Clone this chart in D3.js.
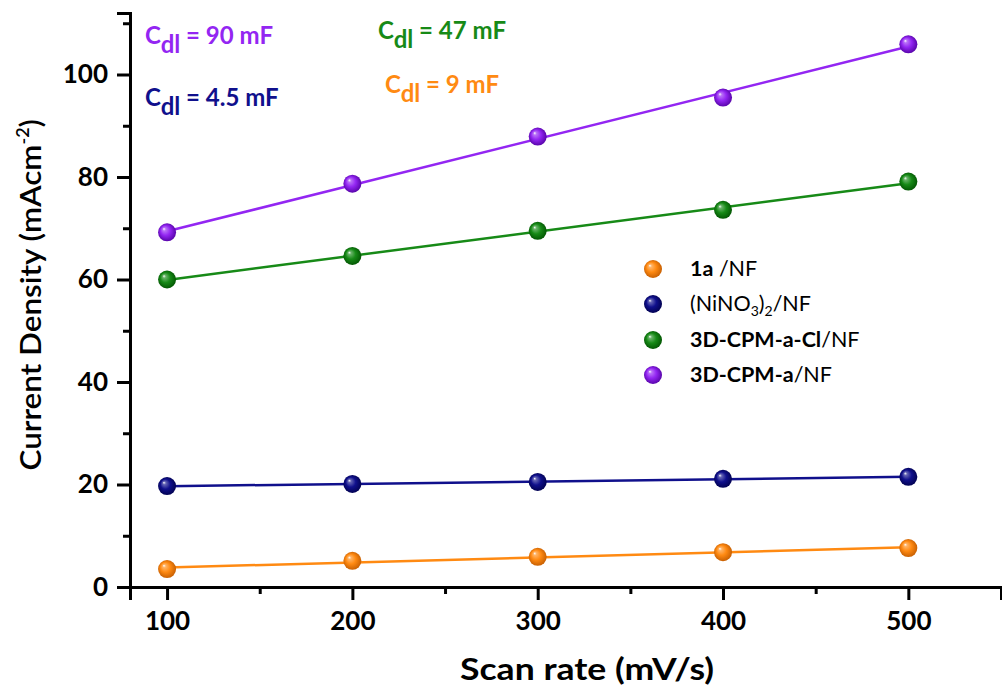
<!DOCTYPE html>
<html><head><meta charset="utf-8">
<script src="https://cdn.jsdelivr.net/npm/d3@7"></script>
<style>
html,body{margin:0;padding:0;background:#fff;}
svg{display:block;font-family:Lato,"Open Sans",sans-serif;}
</style></head>
<body><svg id="c" width="1002" height="690"></svg>
<script>
const scanRates = [100, 200, 300, 400, 500];
const series1a = [3.5, 5.1, 5.9, 6.8, 7.6];
const seriesNiNO3 = [19.7, 20.1, 20.5, 21.1, 21.5];
const seriesCl = [60.0, 64.6, 69.5, 73.6, 79.1];
const seriesA = [69.2, 78.7, 87.9, 95.5, 105.9];
const xTicks = [100, 200, 300, 400, 500];
const yTicks = [0, 20, 40, 60, 80, 100];
const seriesNames = ["1a /NF", "(NiNO3)2/NF", "3D-CPM-a-Cl/NF", "3D-CPM-a/NF"];
const annotations = ["= 90 mF", "= 47 mF", "= 4.5 mF", "= 9 mF"];

const colors = ["#ff8a12", "#10108c", "#178a17", "#9326f2"];
const dark = ["#c05a00", "#00004a", "#005000", "#5000a0"];
const seriesData = [series1a, seriesNiNO3, seriesCl, seriesA];

const svg = d3.select("#c");
const x = d3.scaleLinear().domain([80, 550]).range([130, 1001]);
const y = d3.scaleLinear().domain([0, 112]).range([587, 13]);

// gradients
const defs = svg.append("defs");
colors.forEach((c, i) => {
  const g = defs.append("radialGradient").attr("id", "g" + i)
    .attr("cx", "0.5").attr("cy", "0.5").attr("r", "0.55")
    .attr("fx", "0.32").attr("fy", "0.3");
  g.append("stop").attr("offset", "0").attr("stop-color", "#ffffff");
  g.append("stop").attr("offset", "0.16").attr("stop-color", d3.interpolateRgb("#fff", c)(0.65));
  g.append("stop").attr("offset", "0.5").attr("stop-color", c);
  g.append("stop").attr("offset", "1").attr("stop-color", dark[i]);
});

// axes
const xAxis = d3.axisBottom(x).tickValues(xTicks).tickSize(13).tickPadding(12).tickFormat(d3.format("d"));
const xMinor = d3.axisBottom(x).tickValues([150, 250, 350, 450, 550]).tickSize(7).tickFormat("");
const yAxis = d3.axisLeft(y).tickValues(yTicks).tickSize(13).tickPadding(9).tickFormat(d3.format("d"));
const yMinor = d3.axisLeft(y).tickValues([10, 30, 50, 70, 90, 110]).tickSize(7).tickFormat("");

function styleAxis(g) {
  g.selectAll("path.domain").attr("stroke", "#000").attr("stroke-width", 3);
  g.selectAll(".tick line").attr("stroke", "#000").attr("stroke-width", 3);
  g.selectAll(".tick text").attr("fill", "#000").attr("font-size", 26).attr("font-weight", "bold")
    .attr("font-family", "Lato, sans-serif");
}
svg.append("g").attr("transform", "translate(0,587)").call(xMinor).call(styleAxis);
svg.append("g").attr("transform", "translate(0,587)").call(xAxis).call(styleAxis);
svg.append("g").attr("transform", "translate(130,0)").call(yMinor).call(styleAxis);
svg.append("g").attr("transform", "translate(130,0)").call(yAxis).call(styleAxis);

// axis titles
svg.append("text").attr("x", 587).attr("y", 680).attr("text-anchor", "middle")
  .attr("font-size", 30).attr("font-weight", "bold")
  .attr("textLength", 254).attr("lengthAdjust", "spacingAndGlyphs").text("Scan rate (mV/s)");
const yt = svg.append("text").attr("transform", "translate(41,295) rotate(-90)")
  .attr("text-anchor", "middle").attr("font-size", 29).attr("font-weight", 600);
yt.append("tspan").attr("textLength", 326).attr("lengthAdjust", "spacingAndGlyphs").text("Current Density (mAcm");
yt.append("tspan").attr("font-size", 18).attr("dy", -12).text("-2");
yt.append("tspan").attr("dy", 12).text(")");

// fit lines + markers
seriesData.forEach((vals, i) => {
  const mx = d3.mean(scanRates), my = d3.mean(vals);
  const slope = d3.sum(scanRates, (s, k) => (s - mx) * (vals[k] - my)) / d3.sum(scanRates, s => (s - mx) * (s - mx));
  const icpt = my - slope * mx;
  const ends = [scanRates[0], scanRates[scanRates.length - 1]];
  svg.append("path")
    .datum(ends)
    .attr("d", d3.line().x(d => x(d)).y(d => y(icpt + slope * d)))
    .attr("stroke", colors[i]).attr("stroke-width", 2.5).attr("fill", "none");
  svg.append("g").selectAll("circle").data(vals).join("circle")
    .attr("cx", (d, k) => x(scanRates[k])).attr("cy", d => y(d)).attr("r", 9)
    .attr("fill", `url(#g${i})`);
});

// legend
const leg = svg.append("g");
const legY = [269, 304, 340, 375];
seriesNames.forEach((n, i) => {
  leg.append("circle").attr("cx", 653).attr("cy", legY[i]).attr("r", 9).attr("fill", `url(#g${i})`);
  const t = leg.append("text").attr("x", 690).attr("y", legY[i] + 7).attr("font-size", 21.5).attr("fill", "#000");
  if (i === 0) {
    t.append("tspan").attr("font-weight", "bold").text("1a");
    t.append("tspan").text(" /NF");
  } else if (i === 1) {
    t.append("tspan").text("(NiNO");
    t.append("tspan").attr("font-size", 14).attr("dy", 5).text("3");
    t.append("tspan").attr("dy", -5).text(")");
    t.append("tspan").attr("font-size", 14).attr("dy", 5).text("2");
    t.append("tspan").attr("dy", -5).text("/NF");
  } else if (i === 2) {
    t.append("tspan").attr("font-weight", "bold").text("3D-CPM-a-Cl");
    t.append("tspan").text("/NF");
  } else {
    t.append("tspan").attr("font-weight", "bold").text("3D-CPM-a");
    t.append("tspan").text("/NF");
  }
});

// annotations
const annPos = [[145, 44, 3], [378, 39, 2], [145, 106, 1], [385, 93, 0]];
annotations.forEach((a, i) => {
  const [ax, ay, ci] = annPos[i];
  const t = svg.append("text").attr("x", ax).attr("y", ay).attr("font-size", 24)
    .attr("font-weight", "bold").attr("fill", colors[ci]);
  t.append("tspan").text("C");
  t.append("tspan").attr("dy", 9).text("dl");
  t.append("tspan").attr("dy", -9).text(" " + a);
});
</script></body></html>
